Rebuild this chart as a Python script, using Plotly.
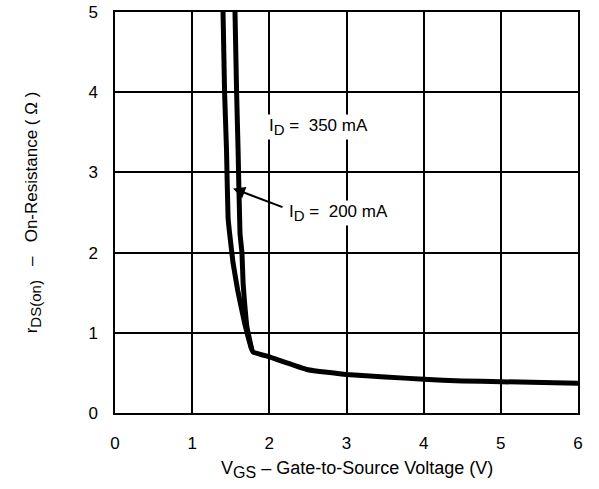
import plotly.graph_objects as go

# Data
vgs_200 = [1.40, 1.42, 1.445, 1.465, 1.49, 1.53, 1.59, 1.68, 1.77, 1.79, 2.0, 2.5, 3.0, 3.5, 4.0, 4.5, 5.0, 6.0]
rds_200 = [5.0, 4.0, 3.28, 2.44, 2.2, 1.87, 1.53, 1.12, 0.80, 0.76, 0.70, 0.54, 0.48, 0.45, 0.42, 0.40, 0.39, 0.37]

vgs_350 = [1.555, 1.576, 1.595, 1.62, 1.645, 1.66, 1.68, 1.71, 1.77]
rds_350 = [5.0, 4.0, 3.28, 2.24, 2.0, 1.62, 1.37, 1.07, 0.80]

x_ticks = [0, 1, 2, 3, 4, 5, 6]
y_ticks = [0, 1, 2, 3, 4, 5]

FONT = "Liberation Sans, Arial, Helvetica, sans-serif"
FS = 17


def sub(s, px=15):
    return "<sub><span style='font-size:%dpx'>%s</span></sub>" % (px, s)


fig = go.Figure()
fig.add_trace(go.Scatter(x=vgs_200, y=rds_200, mode="lines",
                         line=dict(color="black", width=5, shape="spline", smoothing=0.3),
                         showlegend=False, name="I_D = 200 mA"))
fig.add_trace(go.Scatter(x=vgs_350, y=rds_350, mode="lines",
                         line=dict(color="black", width=5, shape="spline", smoothing=0.3),
                         showlegend=False, name="I_D = 350 mA"))

fig.add_annotation(x=1.97, y=3.57, xref="x", yref="y", xanchor="left", yanchor="middle",
                   text="I" + sub("D") + " =  350 mA", showarrow=False,
                   font=dict(family=FONT, size=FS, color="black"), bgcolor="white")
fig.add_annotation(x=2.23, y=2.49, xref="x", yref="y", xanchor="left", yanchor="middle",
                   text="I" + sub("D") + " =  200 mA", showarrow=False,
                   font=dict(family=FONT, size=FS, color="black"), bgcolor="white")
fig.add_annotation(x=1.53, y=2.80, xref="x", yref="y", ax=2.19, ay=2.56, axref="x", ayref="y",
                   text="", showarrow=True, arrowhead=2, arrowsize=1.2, arrowwidth=2, arrowcolor="black")

# x-axis title (slightly right of centre in the reference)
fig.add_annotation(x=0.522, y=-0.14, xref="paper", yref="paper", xanchor="center", yanchor="middle",
                   text="V" + sub("GS", 16) + " – Gate-to-Source Voltage (V)", showarrow=False,
                   font=dict(family=FONT, size=18, color="black"))

fig.update_xaxes(range=[0, 6], tickvals=x_ticks, showgrid=True, gridcolor="black", gridwidth=1.5,
                 showline=True, linecolor="black", linewidth=1.5, mirror=True, zeroline=False,
                 ticks="", tickfont=dict(family=FONT, size=FS, color="black"), ticklabelstandoff=14,
                 automargin=False)
fig.update_yaxes(range=[0, 5], tickvals=y_ticks, showgrid=True, gridcolor="black", gridwidth=1.5,
                 showline=True, linecolor="black", linewidth=1.5, mirror=True, zeroline=False,
                 ticks="", tickfont=dict(family=FONT, size=FS, color="black"), ticklabelstandoff=12,
                 automargin=False,
                 title=dict(text="r" + sub("DS(on)", 15) + "   –   On-Resistance ( Ω )",
                            font=dict(family=FONT, size=FS, color="black"), standoff=46))

fig.update_layout(width=599, height=489, margin=dict(l=115, r=21, t=12, b=76),
                  paper_bgcolor="white", plot_bgcolor="white", font=dict(family=FONT))

fig.write_html("out.html")
